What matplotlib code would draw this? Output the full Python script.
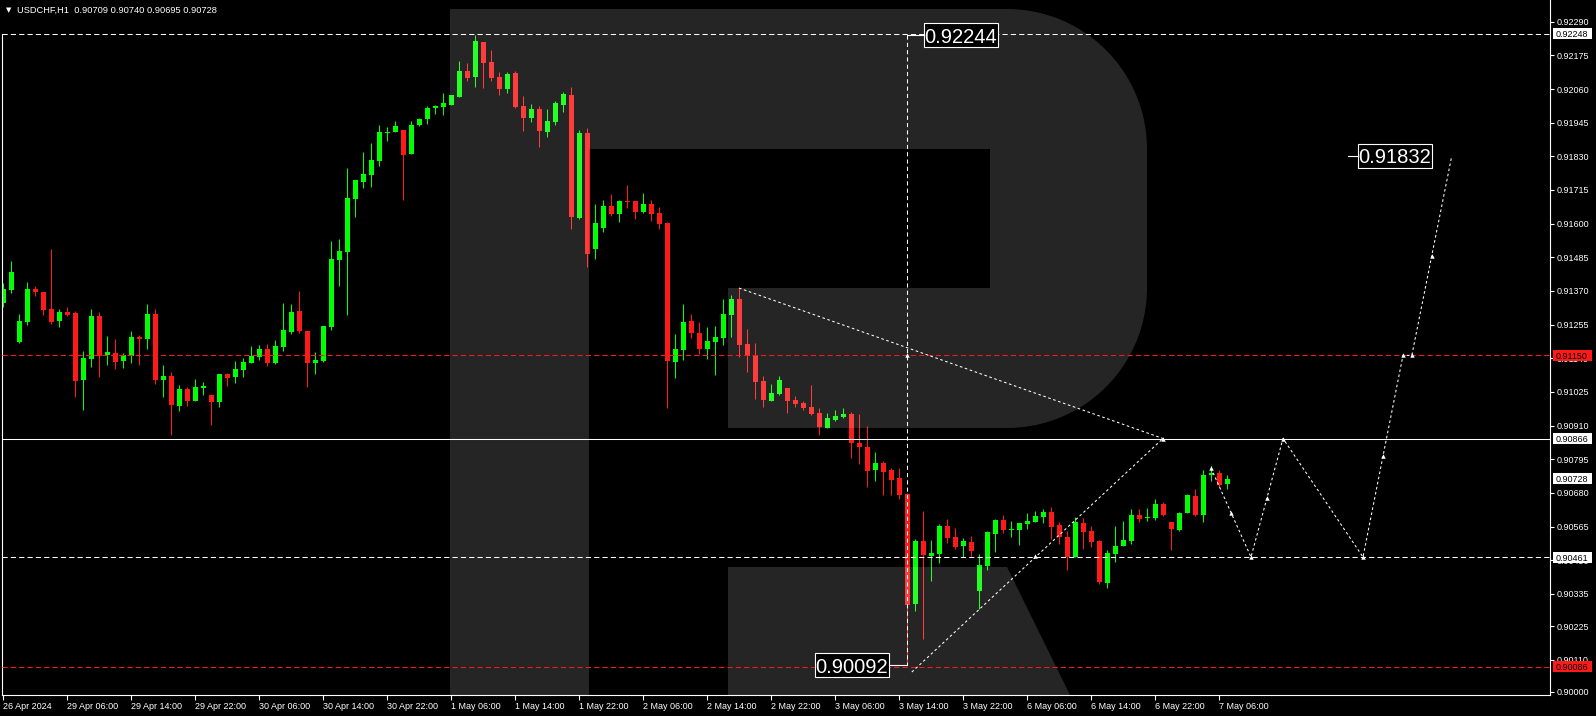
import numpy as np
import matplotlib
matplotlib.use("Agg")
import matplotlib.pyplot as plt
from matplotlib.patches import Rectangle
import matplotlib.transforms as mtransforms

# ---- data (bar 0 = 26 Apr 22:00) ----
symbol = 'USDCHF,H1'
header_ohlc = ['0.90709', '0.90740', '0.90695', '0.90728']

opens = [0.91330, 0.91374, 0.91197, 0.91265, 0.91377, 0.91367, 0.91308, 0.91269, 0.91299, 0.91295,
         0.91067, 0.91139, 0.91285, 0.91150, 0.91158, 0.91132, 0.91149, 0.91213, 0.91207, 0.91291,
         0.91067, 0.91080, 0.90978, 0.91035, 0.90995, 0.91040, 0.91015, 0.90992, 0.91086, 0.91077,
         0.91101, 0.91125, 0.91146, 0.91172, 0.91124, 0.91180, 0.91231, 0.91302, 0.91233, 0.91125,
         0.91132, 0.91248, 0.91476, 0.91504, 0.91684, 0.91742, 0.91766, 0.91814, 0.91910, 0.91913,
         0.91920, 0.91838, 0.91937, 0.91958, 0.91995, 0.91999, 0.92005, 0.92033, 0.92122, 0.92101,
         0.92221, 0.92152, 0.92101, 0.92060, 0.92115, 0.92002, 0.91961, 0.91992, 0.91913, 0.91947,
         0.92005, 0.92040, 0.91619, 0.91910, 0.91514, 0.91585, 0.91660, 0.91633, 0.91678, 0.91678,
         0.91640, 0.91667, 0.91636, 0.91602, 0.91127, 0.91168, 0.91267, 0.91226, 0.91172, 0.91196,
         0.91209, 0.91288, 0.91343, 0.91189, 0.91151, 0.91063, 0.90994, 0.91018, 0.91039, 0.90998,
         0.90987, 0.90974, 0.90953, 0.90902, 0.90929, 0.90940, 0.90950, 0.90851, 0.90837, 0.90758,
         0.90782, 0.90758, 0.90731, 0.90676, 0.90301, 0.90516, 0.90465, 0.90471, 0.90567, 0.90530,
         0.90499, 0.90512, 0.90345, 0.90430, 0.90540, 0.90588, 0.90553, 0.90553, 0.90574, 0.90581,
         0.90598, 0.90615, 0.90571, 0.90530, 0.90461, 0.90577, 0.90550, 0.90516, 0.90372, 0.90471,
         0.90499, 0.90516, 0.90605, 0.90594, 0.90594, 0.90642, 0.90581, 0.90553, 0.90612, 0.90670,
         0.90605, 0.90741, 0.90748, 0.90709]
highs = [0.91396, 0.91472, 0.91291, 0.91401, 0.91387, 0.91367, 0.91513, 0.91308, 0.91315, 0.91302,
         0.91165, 0.91308, 0.91298, 0.91216, 0.91206, 0.91158, 0.91233, 0.91220, 0.91325, 0.91308,
         0.91117, 0.91093, 0.91049, 0.91042, 0.91070, 0.91059, 0.91015, 0.91086, 0.91090, 0.91131,
         0.91141, 0.91182, 0.91185, 0.91189, 0.91203, 0.91329, 0.91325, 0.91370, 0.91233, 0.91162,
         0.91250, 0.91541, 0.91548, 0.91790, 0.91749, 0.91845, 0.91876, 0.91937, 0.91930, 0.91951,
         0.91920, 0.91951, 0.91961, 0.92002, 0.92005, 0.92046, 0.92040, 0.92156, 0.92149, 0.92244,
         0.92221, 0.92193, 0.92118, 0.92118, 0.92122, 0.92036, 0.92009, 0.92002, 0.91992, 0.92019,
         0.92050, 0.92067, 0.91920, 0.91927, 0.91667, 0.91681, 0.91701, 0.91681, 0.91732, 0.91678,
         0.91705, 0.91681, 0.91657, 0.91605, 0.91223, 0.91326, 0.91291, 0.91264, 0.91247, 0.91250,
         0.91343, 0.91356, 0.91380, 0.91240, 0.91192, 0.91080, 0.91052, 0.91080, 0.91039, 0.91011,
         0.90994, 0.91049, 0.90970, 0.90953, 0.90963, 0.90970, 0.90957, 0.90950, 0.90909, 0.90820,
         0.90789, 0.90765, 0.90765, 0.90680, 0.90523, 0.90618, 0.90519, 0.90574, 0.90591, 0.90560,
         0.90526, 0.90533, 0.90471, 0.90550, 0.90591, 0.90605, 0.90584, 0.90577, 0.90612, 0.90618,
         0.90625, 0.90632, 0.90581, 0.90550, 0.90598, 0.90594, 0.90567, 0.90519, 0.90485, 0.90567,
         0.90584, 0.90625, 0.90625, 0.90629, 0.90659, 0.90649, 0.90581, 0.90615, 0.90676, 0.90694,
         0.90758, 0.90772, 0.90758, 0.90740]
lows = [0.91316, 0.91364, 0.91193, 0.91255, 0.91354, 0.91289, 0.91258, 0.91248, 0.91286, 0.91009,
        0.90965, 0.91111, 0.91077, 0.91118, 0.91105, 0.91108, 0.91125, 0.91118, 0.91173, 0.91053,
        0.91009, 0.90879, 0.90961, 0.90978, 0.90995, 0.91016, 0.90913, 0.90975, 0.91046, 0.91057,
        0.91077, 0.91125, 0.91135, 0.91115, 0.91122, 0.91166, 0.91224, 0.91228, 0.91043, 0.91088,
        0.91129, 0.91238, 0.91388, 0.91289, 0.91624, 0.91723, 0.91726, 0.91797, 0.91882, 0.91913,
        0.91681, 0.91838, 0.91934, 0.91941, 0.91975, 0.91971, 0.92005, 0.92033, 0.92087, 0.92067,
        0.92063, 0.92087, 0.92040, 0.92046, 0.91995, 0.91917, 0.91947, 0.91862, 0.91896, 0.91937,
        0.91982, 0.91582, 0.91616, 0.91452, 0.91479, 0.91572, 0.91626, 0.91606, 0.91654, 0.91616,
        0.91636, 0.91609, 0.91582, 0.90971, 0.91073, 0.91134, 0.91209, 0.91155, 0.91138, 0.91083,
        0.91185, 0.91213, 0.91144, 0.91093, 0.91001, 0.90974, 0.90994, 0.91015, 0.90953, 0.90974,
        0.90963, 0.90946, 0.90878, 0.90902, 0.90926, 0.90936, 0.90799, 0.90779, 0.90700, 0.90721,
        0.90673, 0.90673, 0.90659, 0.90092, 0.90277, 0.90181, 0.90379, 0.90441, 0.90509, 0.90489,
        0.90461, 0.90465, 0.90284, 0.90417, 0.90478, 0.90543, 0.90530, 0.90502, 0.90557, 0.90581,
        0.90577, 0.90523, 0.90506, 0.90417, 0.90461, 0.90489, 0.90495, 0.90369, 0.90355, 0.90444,
        0.90499, 0.90506, 0.90581, 0.90584, 0.90588, 0.90601, 0.90485, 0.90550, 0.90612, 0.90601,
        0.90581, 0.90721, 0.90700, 0.90695]
closes = [0.91377, 0.91435, 0.91267, 0.91377, 0.91368, 0.91306, 0.91265, 0.91298, 0.91289, 0.91064,
          0.91142, 0.91285, 0.91149, 0.91162, 0.91129, 0.91150, 0.91213, 0.91206, 0.91291, 0.91067,
          0.91080, 0.90982, 0.91035, 0.90995, 0.91042, 0.91045, 0.90992, 0.91086, 0.91074, 0.91103,
          0.91128, 0.91148, 0.91172, 0.91125, 0.91182, 0.91237, 0.91298, 0.91234, 0.91125, 0.91134,
          0.91250, 0.91479, 0.91507, 0.91688, 0.91749, 0.91770, 0.91818, 0.91913, 0.91913, 0.91934,
          0.91835, 0.91937, 0.91958, 0.91995, 0.92002, 0.92012, 0.92040, 0.92122, 0.92098, 0.92224,
          0.92149, 0.92098, 0.92060, 0.92111, 0.91999, 0.91961, 0.91992, 0.91917, 0.91951, 0.92012,
          0.92043, 0.91623, 0.91910, 0.91496, 0.91602, 0.91660, 0.91633, 0.91678, 0.91674, 0.91640,
          0.91667, 0.91633, 0.91599, 0.91131, 0.91172, 0.91264, 0.91226, 0.91172, 0.91199, 0.91213,
          0.91291, 0.91343, 0.91185, 0.91148, 0.91059, 0.90998, 0.91022, 0.91066, 0.90994, 0.90984,
          0.90970, 0.90950, 0.90905, 0.90936, 0.90943, 0.90950, 0.90851, 0.90837, 0.90755, 0.90782,
          0.90752, 0.90724, 0.90673, 0.90297, 0.90516, 0.90468, 0.90475, 0.90567, 0.90526, 0.90495,
          0.90516, 0.90482, 0.90434, 0.90547, 0.90588, 0.90553, 0.90557, 0.90577, 0.90584, 0.90601,
          0.90615, 0.90564, 0.90530, 0.90461, 0.90581, 0.90547, 0.90512, 0.90376, 0.90475, 0.90499,
          0.90519, 0.90605, 0.90591, 0.90598, 0.90642, 0.90605, 0.90557, 0.90612, 0.90673, 0.90605,
          0.90741, 0.90748, 0.90707, 0.90728]

time_labels = ['26 Apr 2024', '29 Apr 06:00', '29 Apr 14:00', '29 Apr 22:00', '30 Apr 06:00',
               '30 Apr 14:00', '30 Apr 22:00', '1 May 06:00', '1 May 14:00', '1 May 22:00',
               '2 May 06:00', '2 May 14:00', '2 May 22:00', '3 May 06:00', '3 May 14:00',
               '3 May 22:00', '6 May 06:00', '6 May 14:00', '6 May 22:00', '7 May 06:00']
time_label_bars = list(range(0, 160, 8))

price_ticks = ['0.92290', '0.92175', '0.92060', '0.91945', '0.91830', '0.91715', '0.91600',
               '0.91485', '0.91370', '0.91255', '0.91140', '0.91025', '0.90910', '0.90795',
               '0.90680', '0.90565', '0.90450', '0.90335', '0.90225', '0.90110', '0.90000']

# horizontal levels: price, colour, style
levels = [(0.92248, 'white', 'dash'), (0.91150, 'red', 'dash'), (0.90866, 'white', 'solid'),
          (0.90461, 'white', 'dash'), (0.90086, 'red', 'dash')]
axis_boxes = [('0.92248', 'white'), ('0.91150', 'red'), ('0.90866', 'white'),
              ('0.90728', 'white'), ('0.90461', 'white'), ('0.90086', 'red')]

# analysis drawings (bar index, price)
range_bar, range_hi, range_lo = 113, 0.92244, 0.90092
down_bars, down_prices = [92, 145], [0.91380, 0.90866]
up_bars, up_prices = [113.6, 145], [0.90068, 0.90866]
fc_bars = [151, 156, 160, 170, 175, 176.1, 181.1]
fc_prices = [0.90765, 0.90461, 0.90866, 0.90461, 0.91150, 0.91150, 0.91832]
mark_bars = [113, 129, 145, 151, 153.5, 156, 158, 160, 170, 172.5, 175, 176.1, 178.6]
mark_prices = [0.91150, 0.90465, 0.90866, 0.90765, 0.90613, 0.90461, 0.90664, 0.90866,
               0.90461, 0.90806, 0.91150, 0.91150, 0.91491]

# ---- layout (pixel based, like the terminal window) ----
W, H = 1596, 716
LEFT, RIGHT, BOTTOM = 2, 1550, 695
Y_TOP, Y_BOT = 0.923641, 0.899897
px_x = 1 / 8.0
px_y = (Y_TOP - Y_BOT) / BOTTOM
font = 'Liberation Sans'
red = '#ff1a1a'
green = '#00ff00'

fig = plt.figure(figsize=(W / 100, H / 100), dpi=100, facecolor='black')
ax = fig.add_axes([LEFT / W, (H - BOTTOM) / H, (RIGHT - LEFT) / W, BOTTOM / H])
ax.set_facecolor('black')
ax.set_xlim(-0.125, -0.125 + (RIGHT - LEFT) * px_x)
ax.set_ylim(Y_BOT, Y_TOP)

ax.spines['top'].set_visible(False)
for s in ['left', 'bottom', 'right']:
    ax.spines[s].set_color('white')
    ax.spines[s].set_linewidth(0.8)
ax.spines['left'].set_bounds(Y_BOT, levels[0][0])

ax.set_xticks(time_label_bars, time_labels)
for t in ax.get_xticklabels():
    t.set_ha('left')
ax.yaxis.tick_right()
ax.set_yticks([float(v) for v in price_ticks], price_ticks)
ax.tick_params(axis='x', colors='white', length=3.5, width=0.8, pad=1.5, labelsize=6.5)
ax.tick_params(axis='y', colors='white', length=3, width=0.8, pad=2, labelsize=6.5)
for t in ax.get_xticklabels() + ax.get_yticklabels():
    t.set_fontfamily(font)

# ---- candles ----
idx = np.arange(len(opens))
o, h, l, c = (np.array(a) for a in (opens, highs, lows, closes))
cols = np.where(c >= o, green, red)
ax.vlines(idx, l, h, colors=cols, linewidth=0.75, zorder=2)
body_lo = np.minimum(o, c)
body_h = np.maximum(np.abs(c - o), px_y)
ax.bar(idx, body_h, bottom=body_lo, width=5 * px_x, color=cols, linewidth=0, zorder=2)

# ---- watermark R (translucent, over the candles) ----
def to_fig(pts):
    pts = np.asarray(pts, float)
    return np.column_stack([pts[:, 0] / W, 1 - pts[:, 1] / H])

def arc(cx, cy, r, a0, a1, n=30):
    t = np.radians(np.linspace(a0, a1, n))
    return np.column_stack([cx + r * np.cos(t), cy - r * np.sin(t)])

stem = [(450, 9), (589, 9), (589, BOTTOM), (450, BOTTOM)]
bowl = np.vstack([[(589, 9), (1007, 9)], arc(1007, 149, 140, 90, 0),
                  arc(1007, 288, 140, 0, -90),
                  [(728, 428), (728, 288), (990, 288), (990, 149), (589, 149)]])
leg = [(728, 567), (1007, 567), (1070, BOTTOM), (728, BOTTOM)]
for shape in (stem, bowl, leg):
    ax.add_patch(plt.Polygon(to_fig(shape), closed=True, transform=fig.transFigure,
                             facecolor='white', alpha=0.15, edgecolor='none', zorder=3,
                             clip_on=False))

# ---- levels and drawings ----
for price, col, style in levels:
    ls = '-' if style == 'solid' else (0, (5, 3))
    ax.axhline(price, color='white' if col == 'white' else red, linewidth=0.75, linestyle=ls, zorder=4)

ax.plot([range_bar, range_bar], [range_hi, range_lo], color='white', linewidth=0.75,
        linestyle=(0, (4, 3)), zorder=5)
dot = (0, (2.5, 2.5))
ax.plot(down_bars, down_prices, color='white', linewidth=0.75, linestyle=dot, zorder=5)
ax.plot(up_bars, up_prices, color='white', linewidth=0.75, linestyle=dot, zorder=5)
ax.plot(fc_bars, fc_prices, color='white', linewidth=0.75, linestyle=dot, zorder=5)
ax.plot(mark_bars, mark_prices, linestyle='none', marker='^', markersize=3.2,
        color='white', markeredgewidth=0, zorder=6)

# big value labels with connector
def value_box(x_left, price, text, conn_from):
    w, hgt = 74 * px_x, 24 * px_y
    ax.add_patch(Rectangle((x_left, price - hgt / 2), w, hgt, facecolor='black',
                           edgecolor='white', linewidth=0.8, zorder=7))
    ax.text(x_left + w / 2, price, text, color='white', fontsize=14.5, family=font,
            ha='center', va='center_baseline', zorder=8)
    x_conn = x_left if conn_from < x_left else x_left + w
    ax.plot([conn_from, x_conn], [price, price], color='white', linewidth=0.8, zorder=7)

value_box(range_bar + 17 * px_x, range_hi, '0.92244', range_bar)
value_box(range_bar - 92 * px_x, range_lo, '0.90092', range_bar)
value_box(fc_bars[-1] - 94 * px_x, fc_prices[-1], '0.91832', fc_bars[-1] - 104 * px_x)

# price boxes on the right axis
xfm = mtransforms.blended_transform_factory(ax.transAxes, ax.transData)
bx0 = (1553 - LEFT) / (RIGHT - LEFT)
bw = 39 / (RIGHT - LEFT)
for text, col in axis_boxes:
    p = float(text)
    fcol = 'white' if col == 'white' else red
    ax.add_patch(Rectangle((bx0, p - 5.5 * px_y), bw, 11 * px_y, transform=xfm,
                           facecolor=fcol, edgecolor='none', clip_on=False, zorder=9))
    ax.text(bx0 + 3 / (RIGHT - LEFT), p, text, transform=xfm, color='black', fontsize=6.5,
            family=font, ha='left', va='center_baseline', clip_on=False, zorder=10)

# header
fig.text(6 / W, 1 - 10 / H, '\u25bc', color='white', fontsize=5, family='DejaVu Sans',
         ha='left', va='center')
fig.text(17 / W, 1 - 10 / H, symbol + '  ' + ' '.join(header_ohlc), color='white',
         fontsize=6.7, family=font, ha='left', va='center')

fig.savefig('out.png', dpi=100, facecolor='black')
